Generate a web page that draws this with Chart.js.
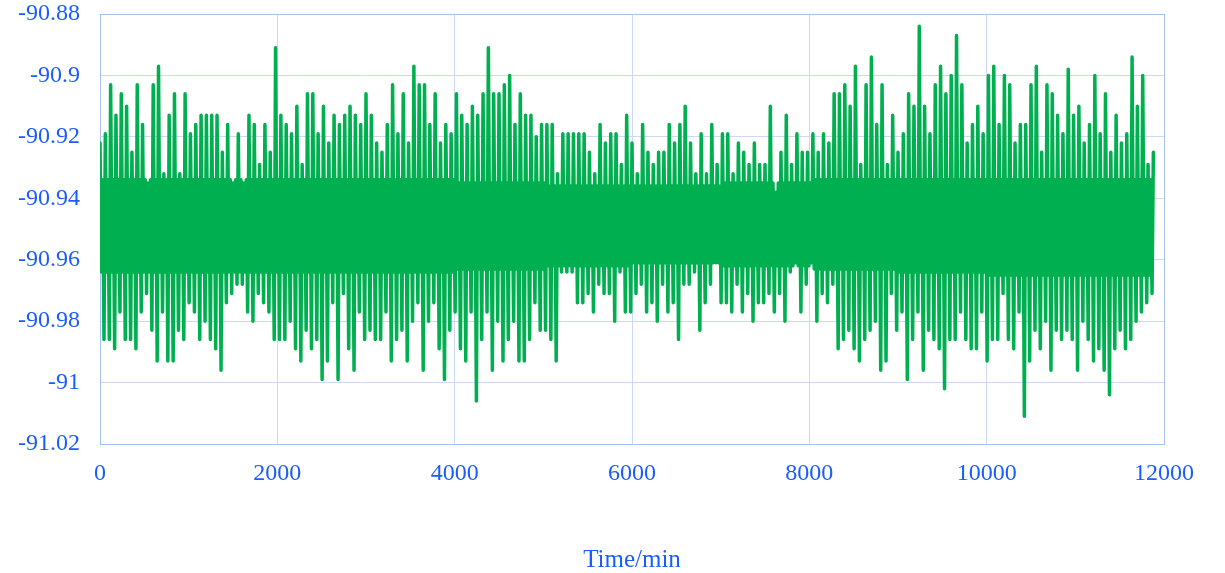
<!DOCTYPE html>
<html>
<head>
<meta charset="utf-8">
<script src="https://cdn.jsdelivr.net/npm/chart.js@4.4.1/dist/chart.umd.min.js"></script>
<style>
  html, body { margin: 0; padding: 0; background: #ffffff; }
  #wrap { width: 1225px; height: 573px; position: relative; }
</style>
</head>
<body>
<div id="wrap"><canvas id="chart" width="1225" height="573"></canvas></div>
<script>
// Each 60-min slot holds: crest, inner low, inner high, trough (15 min apart).
const SLOT_MIN = 60;
const BLOCK_MIN = 1000;

// Crest readings, one per slot starting at t = 0
const peaks = [
  -90.922, -90.919, -90.903, -90.913, -90.906, -90.910, -90.925, -90.903, -90.916, -90.935,
  -90.903, -90.897, -90.932, -90.913, -90.906, -90.932, -90.906, -90.919, -90.916, -90.913,
  -90.913, -90.913, -90.913, -90.925, -90.916, -90.935, -90.919, -90.935, -90.913, -90.916,
  -90.929, -90.916, -90.925, -90.891, -90.913, -90.916, -90.919, -90.910, -90.929, -90.906,
  -90.906, -90.919, -90.910, -90.922, -90.913, -90.916, -90.913, -90.910, -90.913, -90.916,
  -90.906, -90.913, -90.922, -90.925, -90.916, -90.903, -90.919, -90.906, -90.922, -90.897,
  -90.903, -90.903, -90.916, -90.906, -90.922, -90.916, -90.919, -90.906, -90.913, -90.916,
  -90.910, -90.913, -90.906, -90.891, -90.906, -90.906, -90.903, -90.900, -90.916, -90.906,
  -90.913, -90.913, -90.920, -90.916, -90.916, -90.916, -90.932, -90.919, -90.919, -90.919,
  -90.919, -90.919, -90.925, -90.932, -90.916, -90.922, -90.919, -90.919, -90.929, -90.913,
  -90.922, -90.932, -90.916, -90.925, -90.929, -90.925, -90.925, -90.916, -90.922, -90.916,
  -90.910, -90.922, -90.932, -90.919, -90.932, -90.916, -90.929, -90.919, -90.919, -90.932,
  -90.922, -90.925, -90.929, -90.922, -90.929, -90.929, -90.910, -90.938, -90.925, -90.913,
  -90.929, -90.919, -90.925, -90.925, -90.919, -90.925, -90.919, -90.922, -90.906, -90.906,
  -90.903, -90.910, -90.897, -90.929, -90.903, -90.894, -90.916, -90.903, -90.929, -90.913,
  -90.925, -90.919, -90.906, -90.910, -90.884, -90.910, -90.919, -90.903, -90.897, -90.906,
  -90.900, -90.887, -90.903, -90.922, -90.916, -90.910, -90.919, -90.900, -90.897, -90.916,
  -90.900, -90.903, -90.922, -90.916, -90.916, -90.903, -90.897, -90.925, -90.903, -90.906,
  -90.913, -90.919, -90.898, -90.913, -90.910, -90.922, -90.916, -90.900, -90.919, -90.906,
  -90.925, -90.913, -90.922, -90.919, -90.894, -90.910, -90.900, -90.929, -90.925
];

// Trough readings, one per slot starting at t = 45
const troughs = [
  -90.986, -90.986, -90.989, -90.977, -90.986, -90.986, -90.989, -90.977, -90.971, -90.983,
  -90.993, -90.977, -90.993, -90.993, -90.983, -90.986, -90.974, -90.977, -90.986, -90.980,
  -90.986, -90.989, -90.996, -90.974, -90.971, -90.968, -90.968, -90.977, -90.980, -90.971,
  -90.974, -90.977, -90.986, -90.986, -90.986, -90.980, -90.989, -90.993, -90.983, -90.989,
  -90.986, -90.999, -90.993, -90.974, -90.999, -90.971, -90.989, -90.996, -90.977, -90.986,
  -90.983, -90.986, -90.986, -90.977, -90.993, -90.986, -90.983, -90.993, -90.980, -90.974,
  -90.996, -90.980, -90.974, -90.989, -90.999, -90.983, -90.977, -90.989, -90.993, -90.977,
  -91.006, -90.986, -90.977, -90.996, -90.980, -90.993, -90.986, -90.980, -90.993, -90.993,
  -90.986, -90.974, -90.983, -90.983, -90.986, -90.993, -90.964, -90.964, -90.964, -90.974,
  -90.974, -90.971, -90.977, -90.968, -90.971, -90.971, -90.980, -90.964, -90.977, -90.977,
  -90.971, -90.968, -90.977, -90.974, -90.980, -90.968, -90.977, -90.974, -90.986, -90.968,
  -90.968, -90.964, -90.983, -90.974, -90.968, -90.961, -90.974, -90.974, -90.977, -90.968,
  -90.977, -90.971, -90.980, -90.974, -90.974, -90.971, -90.977, -90.971, -90.980, -90.964,
  -90.961, -90.977, -90.968, -90.961, -90.980, -90.971, -90.974, -90.968, -90.989, -90.986,
  -90.983, -90.989, -90.993, -90.986, -90.983, -90.980, -90.996, -90.993, -90.971, -90.983,
  -90.977, -90.999, -90.986, -90.977, -90.996, -90.983, -90.986, -90.989, -91.002, -90.986,
  -90.986, -90.977, -90.986, -90.989, -90.989, -90.977, -90.993, -90.986, -90.986, -90.971,
  -90.986, -90.989, -90.977, -91.011, -90.993, -90.983, -90.989, -90.980, -90.996, -90.983,
  -90.986, -90.983, -90.986, -90.996, -90.980, -90.986, -90.993, -90.989, -90.996, -91.004,
  -90.989, -90.983, -90.989, -90.986, -90.980, -90.977, -90.974, -90.971
];

// Edges of the solid central band, one value per 1000-min block
const innerTop    = [-90.934, -90.934, -90.934, -90.934, -90.935, -90.936,
                     -90.936, -90.935, -90.934, -90.934, -90.934, -90.934];
const innerBottom = [-90.964, -90.964, -90.964, -90.964, -90.963, -90.962,
                     -90.961, -90.962, -90.963, -90.964, -90.965, -90.965];

const xTicks = [0, 2000, 4000, 6000, 8000, 10000, 12000];
const yTicks = [-91.02, -91.0, -90.98, -90.96, -90.94, -90.92, -90.9, -90.88];
const xTitle = 'Time/min';

const LINE_GREEN = '#00b050';
const TEXT_BLUE = '#1a5cff';
const GRID_BLUE = '#cbd8f6';
const AXIS_BLUE = '#a6bff4';
const FONT = 'Liberation Serif, Times New Roman, serif';

// assemble the time series: crest -> inner low -> inner high -> trough per slot
const series = [];
const step = SLOT_MIN / 4;
for (let i = 0; i < peaks.length; i++) {
  const t0 = i * SLOT_MIN;
  series.push({ x: t0, y: peaks[i] });
  if (i < troughs.length) {
    const b = Math.min(Math.floor(t0 / BLOCK_MIN), innerTop.length - 1);
    series.push({ x: t0 + step, y: innerBottom[b] });
    series.push({ x: t0 + 2 * step, y: innerTop[b] });
    series.push({ x: t0 + 3 * step, y: troughs[i] });
  }
}

const noEdgePadding = s => {
  s.paddingTop = 0; s.paddingBottom = 0; s.paddingLeft = 0; s.paddingRight = 0;
};

new Chart(document.getElementById('chart'), {
  type: 'line',
  data: {
    datasets: [{
      data: series,
      borderColor: LINE_GREEN,
      borderWidth: 3.5,
      pointRadius: 0,
      tension: 0,
      fill: false,
      borderJoinStyle: 'round',
      borderCapStyle: 'round'
    }]
  },
  options: {
    responsive: false,
    animation: false,
    devicePixelRatio: 1,
    layout: { padding: { top: 14, right: 61, left: 0, bottom: 0 } },
    plugins: { legend: { display: false }, tooltip: { enabled: false } },
    scales: {
      x: {
        type: 'linear',
        min: 0,
        max: 12000,
        afterBuildTicks: s => { s.ticks = xTicks.map(v => ({ value: v })); },
        afterFit: s => { s.height = 129; noEdgePadding(s); },
        ticks: {
          color: TEXT_BLUE,
          font: { family: FONT, size: 24 },
          padding: 15,
          maxRotation: 0,
          callback: v => String(v)
        },
        grid: {
          drawTicks: false,
          lineWidth: 1,
          color: c => (c.tick && c.tick.value === 12000) ? AXIS_BLUE : GRID_BLUE
        },
        border: { color: AXIS_BLUE, width: 1 },
        title: {
          display: true,
          text: xTitle,
          color: TEXT_BLUE,
          font: { family: FONT, size: 25, lineHeight: 1 },
          padding: { top: 0, bottom: 0 }
        }
      },
      y: {
        type: 'linear',
        min: -91.02,
        max: -90.88,
        afterBuildTicks: s => { s.ticks = yTicks.map(v => ({ value: v })); },
        afterFit: s => { s.width = 100; noEdgePadding(s); },
        ticks: {
          color: TEXT_BLUE,
          font: { family: FONT, size: 24 },
          padding: 20,
          callback: v => String(parseFloat(Number(v).toFixed(2)))
        },
        grid: {
          drawTicks: false,
          lineWidth: 1,
          color: c => (c.tick && Math.abs(c.tick.value + 90.88) < 1e-6) ? AXIS_BLUE : GRID_BLUE
        },
        border: { color: AXIS_BLUE, width: 1 }
      }
    }
  }
});
</script>
</body>
</html>
